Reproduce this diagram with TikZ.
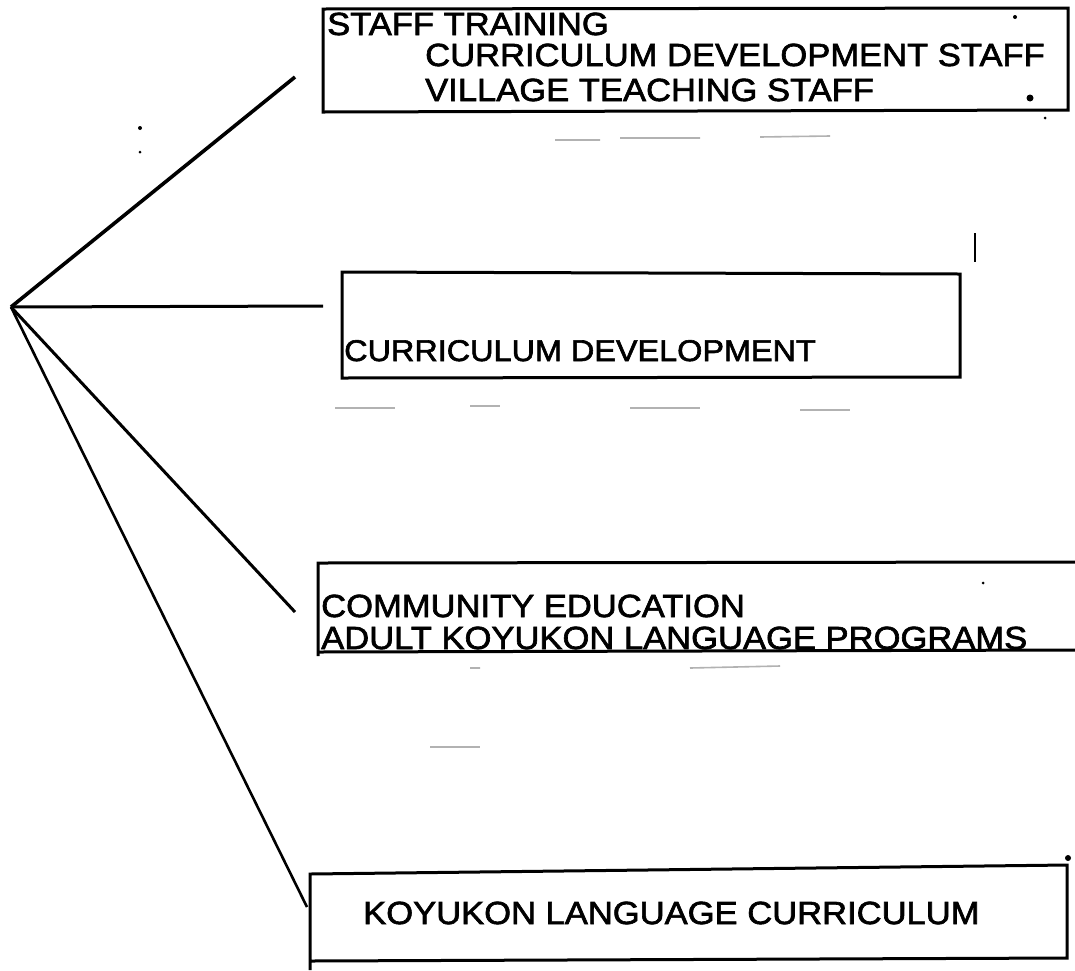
\documentclass[tikz,border=0pt]{standalone}
\usepackage{fontspec}
\newfontfamily\typer[FakeStretch=1.08,FakeBold=2]{Liberation Sans}
\begin{document}
\begin{tikzpicture}[x=1pt,y=-1pt,
  boxline/.style={line width=3pt,line join=miter},
  spoke/.style={line width=3pt},
  lbl/.style={anchor=base west,inner sep=0pt,font=\typer\fontsize{32}{38}\selectfont},
  speck/.style={black!30,line width=1.6pt}]
 \useasboundingbox[fill=white] (0,0) rectangle (1075,970);
 % hub and free ends of the spokes
 \coordinate (hub) at (11,307);
 \coordinate (e1) at (295,77);
 \coordinate (e2) at (323,306);
 \coordinate (e3) at (295,612);
 \coordinate (e4) at (307,907);
 % boxes
 \draw[boxline] (323,9) -- (1068,8) -- (1068,110) -- (323,112) -- cycle;
 \draw[boxline] (342,272) -- (960,274) -- (960,377) -- (342,378) -- cycle;
 \draw[boxline] (1075,562) -- (318,563) -- (318,656);
 \draw[boxline] (318,652) -- (1075,650);
 \draw[boxline] (310,970) -- (310,874) -- (1067,865) -- (1067,958) -- (310,961);
 % labels
 \node[lbl] (staff) at (327,35) {STAFF TRAINING};
 \node[lbl] (cdstaff) at (425,66) {CURRICULUM DEVELOPMENT STAFF};
 \node[lbl] (village) at (425,101) {VILLAGE TEACHING STAFF};
 \node[lbl,font=\typer\fontsize{30}{36}\selectfont] (curdev) at (344,361) {CURRICULUM DEVELOPMENT};
 \node[lbl] (community) at (321,617) {COMMUNITY EDUCATION};
 \node[lbl] (adult) at (321,649) {ADULT KOYUKON LANGUAGE PROGRAMS};
 \node[lbl] (koyukon) at (363,924) {KOYUKON LANGUAGE CURRICULUM};
 % spokes
 \draw[spoke,line width=3.6pt] (hub) -- (e1);
 \draw[spoke] (hub) -- (e2);
 \draw[spoke] (hub) -- (e3);
 \draw[spoke,line width=2.6pt] (hub) -- (e4);
 % specks of the copy
 \fill (1030,98) circle (3.5pt);
 \fill (1015,17) circle (2pt);
 \fill (1045,118) circle (1.5pt);
 \fill (983,583) circle (1.5pt);
 \fill (140,128) circle (2pt);
 \fill (140,152) circle (1.5pt);
 \fill (1068,858) circle (3pt);
 \draw[line width=1.6pt] (975,233) -- (975,262);
 \draw[speck] (555,140) -- (600,140) (620,138) -- (700,138) (760,137) -- (830,136);
 \draw[speck] (335,408) -- (395,408) (470,406) -- (500,406) (630,408) -- (700,408) (800,410) -- (850,410);
 \draw[speck] (690,668) -- (780,666) (470,668) -- (480,668);
 \draw[speck] (430,747) -- (480,747);
\end{tikzpicture}
\end{document}
